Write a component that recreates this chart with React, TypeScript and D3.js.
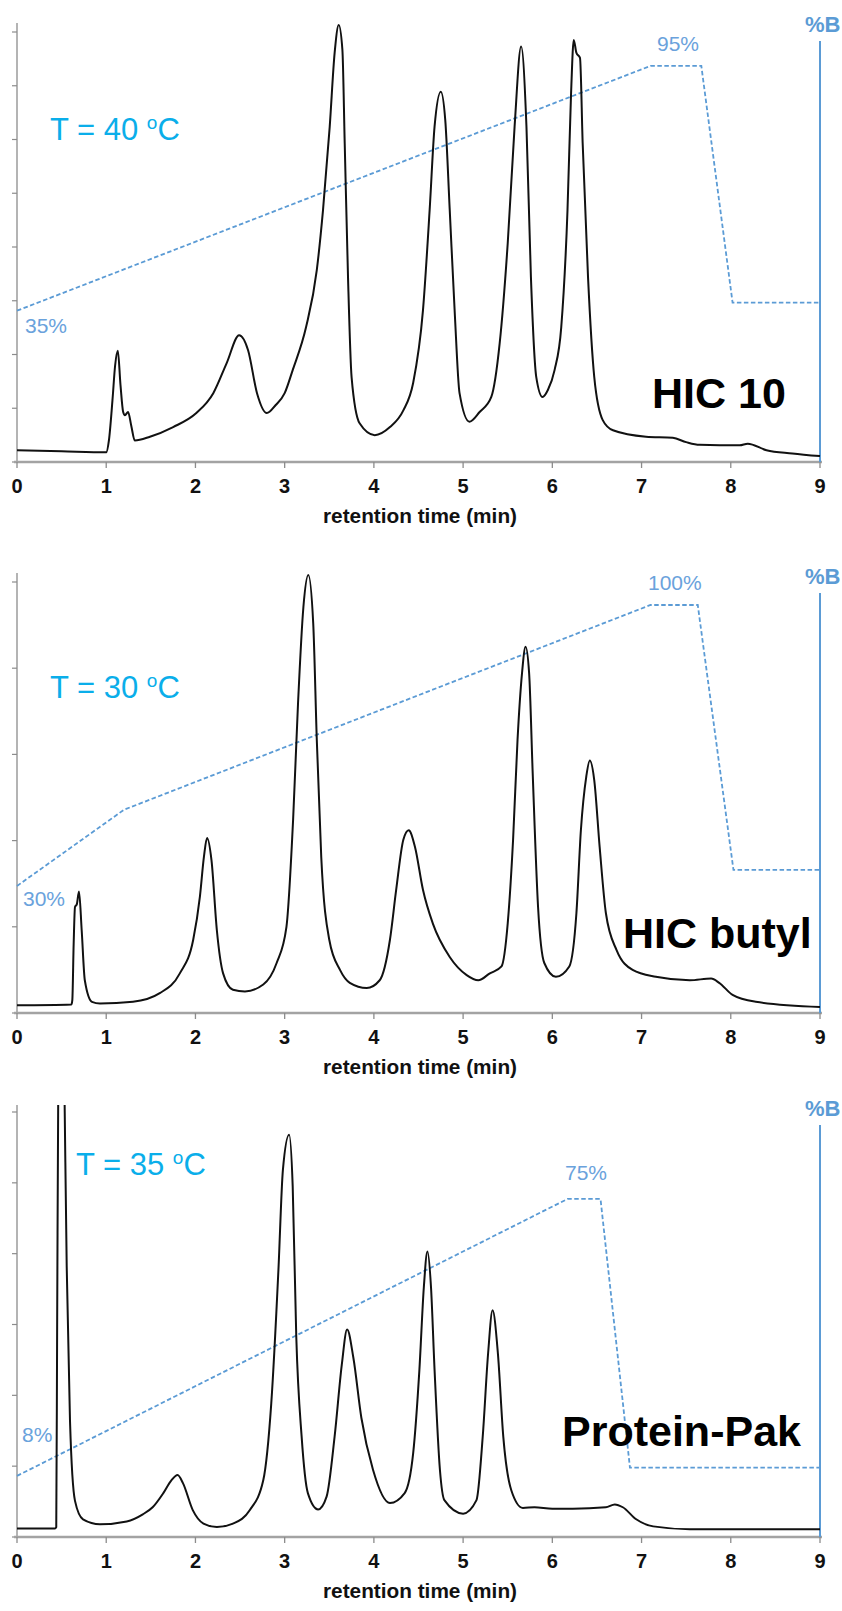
import { useEffect, useRef } from 'react';
import * as d3 from 'd3';

type Pt = [number, number]; // [retention time (min), value]

// shared x axis
const timeTicks = [0, 1, 2, 3, 4, 5, 6, 7, 8, 9];
const axisTitle = 'retention time (min)';

// HIC 10, T = 40 C  (signal in tick units x10)
const hic10Trace: Pt[] = [
  [0, 2.2], [0.5, 2.0], [1.0, 1.8], [1.03, 4.0], [1.07, 11.5], [1.1, 18.0], [1.13, 20.7], [1.16, 14.3],
  [1.19, 9.3], [1.21, 8.7], [1.245, 9.3], [1.28, 6.8], [1.32, 4.0], [1.49, 4.7], [1.75, 6.5], [2.01, 9.1],
  [2.2, 12.8], [2.35, 18.4], [2.49, 23.6], [2.59, 20.8], [2.69, 12.8], [2.8, 9.1], [2.9, 10.6], [3.0, 12.8],
  [3.09, 17.1], [3.24, 25.1], [3.36, 35.7], [3.43, 46.9], [3.505, 62.4], [3.56, 76.1], [3.606, 81.3],
  [3.647, 76.7], [3.673, 59.3], [3.71, 34.4], [3.75, 15.8], [3.84, 7.2], [4.01, 5.0], [4.18, 6.5],
  [4.33, 9.6], [4.44, 14.7], [4.55, 28.2], [4.625, 46.9], [4.68, 62.4], [4.75, 68.9], [4.8, 63.6],
  [4.85, 46.9], [4.905, 28.2], [4.96, 12.8], [5.07, 7.5], [5.185, 9.3], [5.316, 12.1], [5.41, 22.1],
  [5.5, 40.7], [5.577, 62.4], [5.65, 77.3], [5.71, 62.4], [5.76, 34.4], [5.82, 15.8], [5.89, 12.1],
  [5.95, 13.4], [6.025, 17.1], [6.1, 25.1], [6.17, 46.9], [6.21, 68.6], [6.24, 78.5], [6.27, 76.1],
  [6.31, 75.2], [6.34, 59.3], [6.4, 34.4], [6.47, 15.8], [6.565, 7.8], [6.68, 5.9], [7.05, 4.7],
  [7.35, 4.5], [7.5, 3.7], [7.65, 3.2], [8.1, 3.1], [8.19, 3.4], [8.4, 2.2], [8.69, 1.6], [9, 1.1],
];
const hic10Gradient: Pt[] = [[0, 35], [7.1, 95], [7.67, 95], [8.02, 37], [9, 37]];

// HIC butyl, T = 30 C
const butylTrace: Pt[] = [
  [0, 0.9], [0.61, 1.0], [0.62, 1.5], [0.635, 8], [0.65, 12.3], [0.67, 12.6], [0.695, 14.1], [0.725, 9.6],
  [0.76, 3.8], [0.84, 1.3], [0.93, 1.1], [1.3, 1.3], [1.6, 2.3], [1.825, 4.6], [1.975, 8.5], [2.05, 13.5],
  [2.095, 18.1], [2.13, 20.3], [2.18, 17.7], [2.24, 9.6], [2.31, 4.6], [2.42, 2.7], [2.555, 2.5],
  [2.76, 3.3], [2.91, 5.8], [3.02, 10], [3.095, 22.5], [3.15, 36], [3.21, 47.1], [3.265, 50.8],
  [3.32, 45.2], [3.36, 31.7], [3.41, 18.1], [3.5, 8.5], [3.62, 5.0], [3.73, 3.5], [3.92, 2.9],
  [4.065, 3.8], [4.18, 8.5], [4.25, 14.3], [4.33, 20.1], [4.39, 21.2], [4.46, 19.3], [4.55, 14.3],
  [4.66, 10.4], [4.85, 6.5], [5.04, 4.4], [5.17, 3.8], [5.3, 4.6], [5.43, 5.4], [5.5, 10.4], [5.56, 20.1],
  [5.61, 31.7], [5.66, 39.4], [5.7, 42.5], [5.74, 39.4], [5.78, 27.8], [5.84, 12.3], [5.91, 5.8],
  [6.04, 4.2], [6.19, 5.4], [6.27, 11.6], [6.32, 21.2], [6.38, 27.4], [6.42, 29.3], [6.47, 27.0],
  [6.53, 19.3], [6.6, 11.6], [6.72, 7.3], [6.9, 5.0], [7.16, 4.2], [7.54, 3.8], [7.78, 4.0], [7.87, 3.5],
  [8.02, 2.1], [8.28, 1.3], [9, 0.7],
];
const butylGradient: Pt[] = [[0, 30], [1.2, 49], [7.1, 100], [7.63, 100], [8.03, 34], [9, 34]];

// Protein-Pak, T = 35 C (first peak runs off the top)
const pakTrace: Pt[] = [
  [0, 1.2], [0.425, 1.2], [0.44, 1.4], [0.45, 30], [0.465, 70], [0.49, 90], [0.515, 80], [0.535, 60],
  [0.557, 38.3], [0.594, 16.4], [0.65, 5.1], [0.74, 2.5], [0.93, 1.8], [1.23, 2.2], [1.41, 3.2],
  [1.52, 4.2], [1.64, 6.2], [1.73, 8.0], [1.8, 8.75], [1.86, 7.6], [1.97, 3.8], [2.09, 1.9], [2.24, 1.4],
  [2.42, 1.9], [2.61, 3.8], [2.76, 8.0], [2.85, 18.9], [2.93, 37.7], [2.98, 51.8], [3.05, 56.8],
  [3.09, 49.5], [3.13, 28.3], [3.19, 14.2], [3.26, 6.2], [3.375, 3.9], [3.47, 5.7], [3.56, 14.2],
  [3.64, 24.3], [3.7, 29.3], [3.77, 25.3], [3.86, 16.8], [3.99, 9.5], [4.18, 4.8], [4.345, 6.2],
  [4.44, 11.8], [4.51, 23.6], [4.56, 35.3], [4.6, 40.3], [4.64, 35.3], [4.68, 23.6], [4.74, 9.5],
  [4.79, 5.2], [5.0, 3.3], [5.15, 5.2], [5.22, 14.2], [5.28, 25.9], [5.33, 32.0], [5.39, 25.9],
  [5.45, 14.2], [5.54, 6.6], [5.67, 4.1], [5.8, 4.2], [6.0, 4.0], [6.23, 4.0], [6.6, 4.2], [6.7, 4.6],
  [6.79, 4.2], [6.94, 2.5], [7.13, 1.5], [7.54, 1.1], [9, 1.1],
];
const pakGradient: Pt[] = [[0, 8], [6.17, 75], [6.54, 75], [6.87, 10], [9, 10]];

const columnNames = ['HIC 10', 'HIC butyl', 'Protein-Pak'];
const temperatures = ['40', '30', '35'];
const startLabels = ['35%', '30%', '8%'];
const plateauLabels = ['95%', '100%', '75%'];
const signalTickCounts = [8, 5, 6];
const traces = [hic10Trace, butylTrace, pakTrace];
const gradients = [hic10Gradient, butylGradient, pakGradient];

// page positions of each panel
const layout = [
  { axisY: 462, topTickY: 32, axisTopY: 23, bZeroY: 453.5, bFullY: 45.5, bAxisTop: 41, bLabelY: 32,
    tempX: 50, tempY: 140, nameX: 652, nameY: 408, start: [25, 333], plateau: [657, 51] },
  { axisY: 1013, topTickY: 582, axisTopY: 573, bZeroY: 1006.4, bFullY: 605, bAxisTop: 593, bLabelY: 584,
    tempX: 50, tempY: 698, nameX: 623, nameY: 948, start: [23, 906], plateau: [648, 590] },
  { axisY: 1537, topTickY: 1112, axisTopY: 1105, bZeroY: 1509, bFullY: 1095.6, bAxisTop: 1125, bLabelY: 1116,
    tempX: 76, tempY: 1175, nameX: 562, nameY: 1446, start: [22, 1442], plateau: [565, 1180] },
];

const FONT = '"Liberation Sans", Arial, Helvetica, sans-serif';
const BLUE = '#5b9bd5';

const App: React.FC = () => {
  const svgRef = useRef<SVGSVGElement>(null);

  useEffect(() => {
    if (!svgRef.current) return;
    const svg = d3.select(svgRef.current);
    svg.selectAll('*').remove();
    const defs = svg.append('defs');

    const x = d3.scaleLinear().domain([0, 9]).range([17, 820]);

    layout.forEach((L, i) => {
      const nT = signalTickCounts[i];
      const y = d3.scaleLinear().domain([0, nT * 10]).range([L.axisY, L.topTickY]);
      const yB = d3.scaleLinear().domain([0, 100]).range([L.bZeroY, L.bFullY]);
      const g = svg.append('g');

      defs.append('clipPath').attr('id', `clip${i}`)
        .append('rect')
        .attr('x', 17).attr('y', L.axisTopY)
        .attr('width', 810).attr('height', L.axisY - L.axisTopY);

      // left signal axis
      g.append('line')
        .attr('x1', 17).attr('x2', 17)
        .attr('y1', L.axisTopY).attr('y2', L.axisY)
        .attr('stroke', '#8c8c8c').attr('stroke-width', 1.3);
      g.selectAll('.ytick')
        .data(d3.range(0, nT + 1))
        .enter()
        .append('line')
        .attr('x1', 12).attr('x2', 17)
        .attr('y1', d => y(d * 10)).attr('y2', d => y(d * 10))
        .attr('stroke', '#8c8c8c').attr('stroke-width', 1.2);

      // time axis
      g.append('line')
        .attr('x1', 14).attr('x2', 822)
        .attr('y1', L.axisY).attr('y2', L.axisY)
        .attr('stroke', '#a3a3a3').attr('stroke-width', 2.5);
      g.selectAll('.xtick')
        .data(timeTicks)
        .enter()
        .append('line')
        .attr('x1', d => x(d)).attr('x2', d => x(d))
        .attr('y1', L.axisY).attr('y2', L.axisY + 6)
        .attr('stroke', '#8c8c8c').attr('stroke-width', 1.3);
      g.selectAll('.xlabel')
        .data(timeTicks)
        .enter()
        .append('text')
        .attr('x', d => x(d)).attr('y', L.axisY + 31)
        .attr('text-anchor', 'middle')
        .attr('font-family', FONT).attr('font-weight', 'bold').attr('font-size', 20)
        .attr('fill', '#111')
        .text(d => d.toString());
      g.append('text')
        .attr('x', 420).attr('y', L.axisY + 61)
        .attr('text-anchor', 'middle')
        .attr('font-family', FONT).attr('font-weight', 'bold').attr('font-size', 20)
        .attr('textLength', 194).attr('lengthAdjust', 'spacingAndGlyphs')
        .attr('fill', '#111')
        .text(axisTitle);

      // %B axis
      g.append('line')
        .attr('x1', 820).attr('x2', 820)
        .attr('y1', L.bAxisTop).attr('y2', L.axisY)
        .attr('stroke', BLUE).attr('stroke-width', 2);
      g.append('text')
        .attr('x', 805).attr('y', L.bLabelY)
        .attr('font-family', FONT).attr('font-weight', 'bold').attr('font-size', 22)
        .attr('fill', BLUE)
        .text('%B');

      // gradient program
      const gradLine = d3.line<Pt>().x(d => x(d[0])).y(d => yB(d[1]));
      g.append('path')
        .attr('d', gradLine(gradients[i]))
        .attr('fill', 'none')
        .attr('stroke', BLUE).attr('stroke-width', 1.8)
        .attr('stroke-dasharray', '4.5 2.5');

      g.append('text')
        .attr('x', L.start[0]).attr('y', L.start[1])
        .attr('font-family', FONT).attr('font-size', 21).attr('fill', '#6aa2dc')
        .text(startLabels[i]);
      g.append('text')
        .attr('x', L.plateau[0]).attr('y', L.plateau[1])
        .attr('font-family', FONT).attr('font-size', 21).attr('fill', '#6aa2dc')
        .text(plateauLabels[i]);

      // chromatogram
      const traceLine = d3.line<Pt>()
        .x(d => x(d[0]))
        .y(d => y(d[1]))
        .curve(d3.curveMonotoneX);
      g.append('path')
        .attr('d', traceLine(traces[i]))
        .attr('fill', 'none')
        .attr('stroke', '#111').attr('stroke-width', 2)
        .attr('stroke-linejoin', 'round')
        .attr('clip-path', `url(#clip${i})`);

      // temperature + column name
      const temp = g.append('text')
        .attr('x', L.tempX).attr('y', L.tempY)
        .attr('font-family', FONT).attr('font-size', 31).attr('fill', '#0aaeea');
      temp.append('tspan').text(`T = ${temperatures[i]} `);
      temp.append('tspan').attr('font-size', 19).attr('dy', -11).text('o');
      temp.append('tspan').attr('dy', 11).text('C');

      g.append('text')
        .attr('x', L.nameX).attr('y', L.nameY)
        .attr('font-family', FONT).attr('font-weight', 'bold').attr('font-size', 43)
        .attr('fill', '#000')
        .text(columnNames[i]);
    });
  }, []);

  return (
    <svg
      ref={svgRef}
      width={842}
      height={1611}
      viewBox="0 0 842 1611"
      style={{ position: 'absolute', left: 0, top: 0, background: '#fff' }}
    />
  );
};

export default App;
